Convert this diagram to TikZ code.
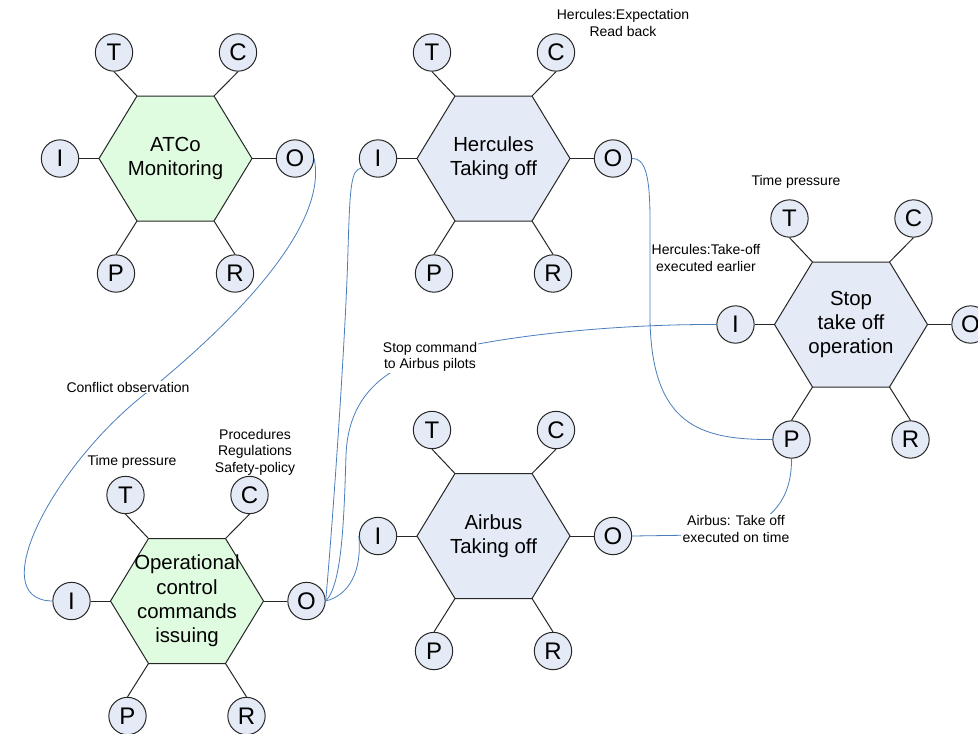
\documentclass[tikz,border=0pt]{standalone}
\usepackage{fontspec}
\setmainfont{Liberation Sans}
\definecolor{conn}{RGB}{74,126,187}
\definecolor{bluefill}{RGB}{229,235,246}
\definecolor{greenfill}{RGB}{224,252,224}
\tikzset{
  hexborder/.style={draw=black!85, line width=0.75pt, line join=miter},
  stub/.style={draw=black!85, line width=0.75pt},
  fntext/.style={align=center, inner sep=0pt, font=\fontsize{15.3}{18.3}\selectfont},
  aspect/.style={circle, draw=black!85, line width=0.75pt, fill=bluefill, minimum size=28pt, inner sep=0pt, font=\fontsize{18}{18}\selectfont},
  connector/.style={draw=conn, line width=0.6pt},
  lbl/.style={align=center, inner sep=1pt, font=\fontsize{10.5}{12.4}\selectfont},
  lblbg/.style={lbl, fill=white}
}
\newcommand{\framfn}[5]{%
\begin{scope}[shift={(#2,#3)}]
\coordinate (#1-v1) at (-38.5,-62.5);
\coordinate (#1-v2) at (38.5,-62.5);
\coordinate (#1-v3) at (76.5,0);
\coordinate (#1-v4) at (38.5,62.5);
\coordinate (#1-v5) at (-38.5,62.5);
\coordinate (#1-v6) at (-76.5,0);
\draw[hexborder, fill=#4] (#1-v1) -- (#1-v2) -- (#1-v3) -- (#1-v4) -- (#1-v5) -- (#1-v6) -- cycle;
\node[fntext] (#1) at (0,0) {#5};
\node[aspect] (#1-T) at (-61.5,-106) {T};
\node[aspect] (#1-C) at (62.5,-106) {C};
\node[aspect] (#1-I) at (-115.5,0) {I};
\node[aspect] (#1-O) at (119.5,0) {O};
\node[aspect] (#1-P) at (-59.5,115) {P};
\node[aspect] (#1-R) at (59.5,115) {R};
\draw[stub] (#1-v1) -- (#1-T.south);
\draw[stub] (#1-v2) -- (#1-C.south);
\draw[stub] (#1-v6) -- (#1-I.east);
\draw[stub] (#1-v3) -- (#1-O.west);
\draw[stub] (#1-v5) -- (#1-P.north);
\draw[stub] (#1-v4) -- (#1-R.north);
\end{scope}}
\begin{document}
\begin{tikzpicture}[x=0.75pt, y=-0.75pt]
\useasboundingbox (0,0) rectangle (978,733);

\framfn{atco}{175.5}{158.5}{greenfill}{ATCo\\Monitoring}
\framfn{herc}{493.5}{158.5}{bluefill}{Hercules\\Taking off}
\framfn{stop}{851}{324.5}{bluefill}{Stop\\take off\\operation}
\framfn{airb}{493.5}{536}{bluefill}{Airbus\\Taking off}
\framfn{opc}{187}{601}{greenfill}{Operational\\control\\commands\\issuing}

% connectors
\draw[connector] (atco-O.east) .. controls (328,225) and (238,318) .. (150,390)
   .. controls (55,462) and (-18,600) .. (opc-I.west);
\draw[connector] (herc-O.east) .. controls (645,158) and (650,175) .. (650,220)
   -- (650,320) .. controls (652,425) and (700,440) .. (stop-P.west);
\draw[connector] (opc-O.east) .. controls (333,520) and (346,330) .. (348,250)
   .. controls (350,185) and (351,170) .. (herc-I.210);
\draw[connector] (opc-O.east) .. controls (342,585) and (344,520) .. (346,455)
   .. controls (348,400) and (380,370) .. (430,355)
   .. controls (500,335) and (620,324) .. (stop-I.west);
\draw[connector] (opc-O.east) .. controls (350,595) and (362,570) .. (airb-I.west);
\draw[connector] (airb-O.east) -- (700,535) .. controls (770,535) and (792,500) .. (stop-P.south);

% labels
\node[lblbg] (lconf) at (128,387) {Conflict observation};
\node[lbl] (lhexp) at (623,23) {Hercules:Expectation\\Read back};
\node[lbl] (ltp1) at (796,182) {Time pressure};
\node[lbl] (lhto) at (706,258) {Hercules:Take-off\\executed earlier};
\node[lblbg] (lstop) at (430,357) {Stop command\\to Airbus pilots};
\node[lblbg] (lair) at (736,529) {Airbus: Take off\\executed on time};
\node[lbl] (ltp2) at (132,462) {Time pressure};
\node[lbl] (lproc) at (255,452) {Procedures\\Regulations\\Safety-policy};
\end{tikzpicture}
\end{document}
